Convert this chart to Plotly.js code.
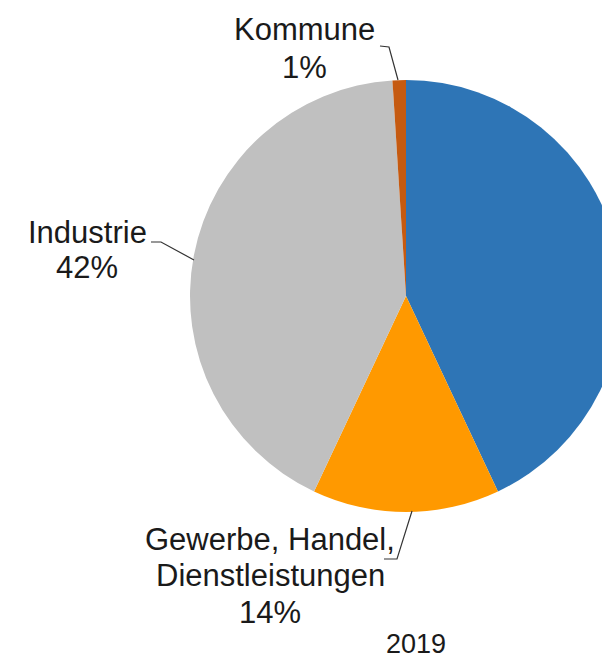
<!DOCTYPE html>
<html>
<head>
<meta charset="utf-8">
<script src="https://cdn.plot.ly/plotly-3.0.1.min.js"></script>
<style>
html, body { margin: 0; padding: 0; overflow: hidden; background: #fff; }
#chart { width: 640px; height: 659px; }
</style>
</head>
<body>
<div id="chart"></div>
<script>
// Data
const categories = ["Haushalte", "Gewerbe, Handel,<br>Dienstleistungen", "Industrie", "Kommune"];
const shares = [43, 14, 42, 1];
const sliceColors = ["#2E75B6", "#FF9900", "#C0C0C0", "#C55A11"];
const yearLabel = "2019";

const W = 640, H = 659;
const px = x => x / W;
const py = y => 1 - y / H;

// label placement (pixels) for visible slices: index -> [x, line center ys]
const labelPos = { 1: [270, [539, 575, 612]], 2: [87, [232, 267]], 3: [304, [30, 67]] };
const leaders = {
  1: [[384, 559], [397, 559], [412, 511]],
  2: [[151, 242], [161, 242], [194, 260]],
  3: [[380, 46], [389, 47], [398, 80]]
};

const FONT = "Liberation Sans, Arial, sans-serif";
const annotations = [];
Object.keys(labelPos).forEach(k => {
  const lines = categories[k].split("<br>").concat([shares[k] + "%"]);
  const [x, ys] = labelPos[k];
  lines.forEach((t, i) => annotations.push({
    x: px(x), y: py(ys[i]), xref: "paper", yref: "paper",
    xanchor: "center", yanchor: "middle", showarrow: false,
    text: t, font: { family: FONT, size: 31, color: "#1a1a1a" }
  }));
});
annotations.push({
  x: px(416), y: py(644), xref: "paper", yref: "paper", xanchor: "center", yanchor: "middle",
  showarrow: false, text: yearLabel,
  font: { family: FONT, size: 27, color: "#1a1a1a" }
});

const shapes = Object.keys(leaders).map(k => {
  const p = leaders[k];
  const d = p.map((pt, i) => (i ? "L" : "M") + px(pt[0]) + "," + py(pt[1])).join(" ");
  return { type: "path", xref: "paper", yref: "paper", path: d,
           line: { color: "#333333", width: 1.2 } };
});

const trace = {
  type: "pie",
  labels: categories,
  values: shares,
  sort: false,
  direction: "clockwise",
  rotation: 0,
  textinfo: "none",
  hoverinfo: "none",
  marker: { colors: sliceColors, line: { width: 0 } },
  domain: { x: [190 / W, 622 / W], y: [1 - 512 / H, 1 - 80 / H] },
  showlegend: false
};

Plotly.newPlot("chart", [trace], {
  width: W, height: H,
  margin: { l: 0, r: 0, t: 0, b: 0 },
  paper_bgcolor: "#ffffff",
  showlegend: false,
  annotations: annotations,
  shapes: shapes
}, { staticPlot: true });
</script>
</body>
</html>
